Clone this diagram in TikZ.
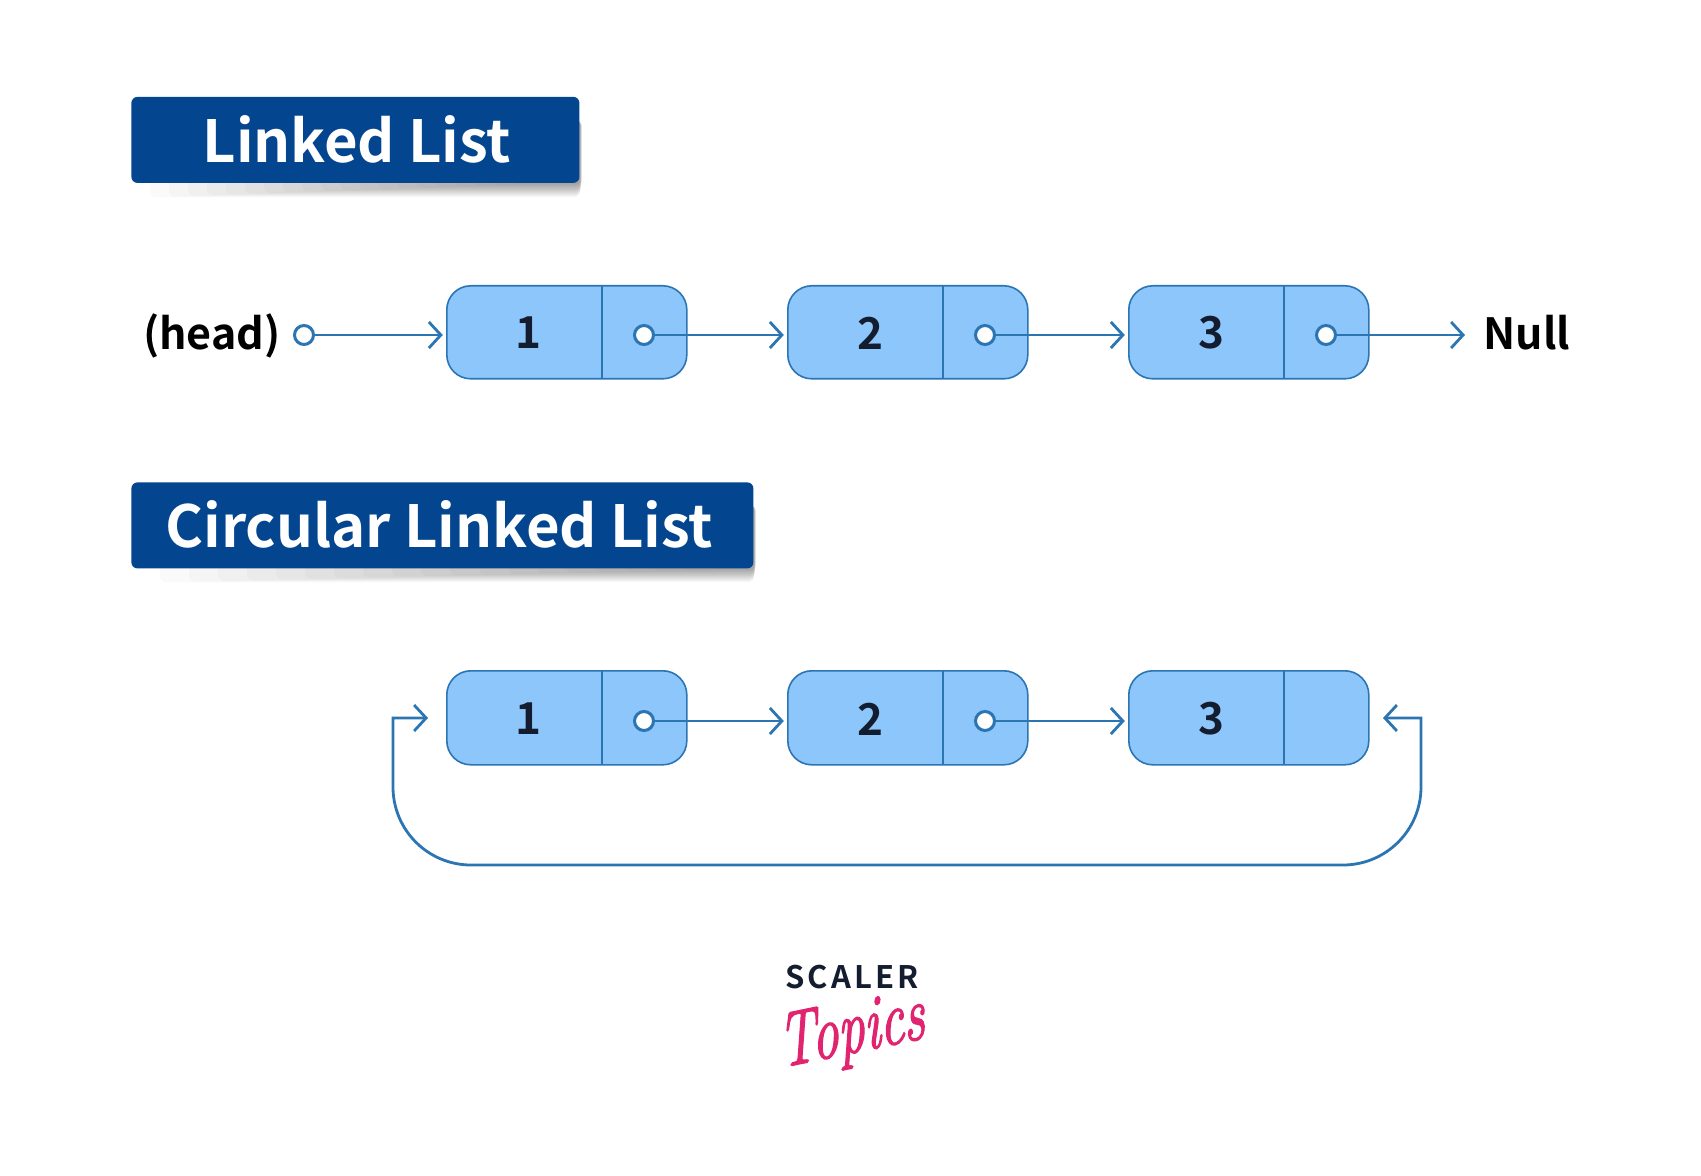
\documentclass[tikz,border=0pt]{standalone}
\usepackage{fontspec}
\usetikzlibrary{positioning,arrows.meta,calc}
\newfontfamily\labelfont{Noto Sans CJK SC Bold}
\newfontfamily\logofont{Noto Sans CJK SC Bold}
\newfontfamily\topicsfont{Latin Modern Roman}[ItalicFeatures={FakeBold=2.2}]
\definecolor{bannerblue}{HTML}{03458F}
\definecolor{cellblue}{HTML}{8CC6FB}
\definecolor{lineblue}{HTML}{2C75B3}
\definecolor{logonavy}{HTML}{141C30}
\definecolor{logopink}{HTML}{E0246F}
\tikzset{
  banner/.style={fill=bannerblue, rounded corners=3pt, anchor=north west, inner sep=0pt,
                 text=white, font=\labelfont\fontsize{29}{29}\selectfont, minimum height=43pt},
  cellbox/.style={draw=lineblue, fill=cellblue, line width=.8pt, rounded corners=12pt, anchor=north west,
                  inner sep=0pt, minimum width=120pt, minimum height=46.5pt},
  celltext/.style={inner sep=0pt, text=logonavy, font=\labelfont\fontsize{22}{22}\selectfont},
  sidetext/.style={inner sep=0pt, text=black, font=\labelfont\fontsize{21.5}{21.5}\selectfont},
  dotnode/.style={circle, draw=lineblue, fill=white, line width=1.5pt, inner sep=0pt, minimum size=9.5pt},
  link/.style={draw=lineblue, line width=1.4pt, -{Straight Barb[length=6pt,width=13pt,line width=1.4pt]}},
}
\begin{document}
\begin{tikzpicture}[x=.5pt,y=-.5pt]
    \useasboundingbox[fill=white] (0,0) rectangle (1701,1176);
    % titles
    \foreach \i in {1,...,20} {
      \fill[black, opacity=.018, rounded corners=3pt] (131+19*\i,120) rectangle (580+.1*\i,198-.7*\i);
      \fill[black, opacity=.018, rounded corners=3pt] (131+29*\i,505) rectangle (754+.1*\i,583-.7*\i);
    }
    \node[banner, minimum width=224pt] (title1) at (131,96.5) {\raisebox{1pt}{\hspace*{1.5pt}Linked List}};
    \node[banner, minimum width=311pt] (title2) at (131,482) {\raisebox{1pt}{Circular Linked List\hspace*{3pt}}};
    % first list
    \node[sidetext, anchor=base east] (head) at (281,350) {(head)};
    \node[dotnode] (hd) at (304,335) {};
    \foreach \n/\x/\t in {1/446/528,2/787/870,3/1128/1211} {
      \node[cellbox] (a\n) at (\x,285) {};
      \node[celltext] (av\n) at (\t,333) {\n};
      \draw[lineblue, line width=.8pt] (a\n.north west) ++(156,0) -- ++(0,93);
      \node[dotnode] (ad\n) at (\x+198,335) {};
    }
    \node[sidetext, anchor=base west] (null) at (1483,350) {Null};
    \coordinate (nullin) at (1465,335);
    \draw[link, shorten >=1.6pt] (hd.east) -- (hd.east -| a1.west);
    \draw[link, shorten >=1.6pt] (ad1.east) -- (ad1.east -| a2.west);
    \draw[link, shorten >=1.6pt] (ad2.east) -- (ad2.east -| a3.west);
    \draw[link] (ad3.east) -- (nullin);
    % second list
    \foreach \n/\x/\t in {1/446/528,2/787/870,3/1128/1211} {
      \node[cellbox, minimum height=47pt] (b\n) at (\x,670) {};
      \node[celltext] (bv\n) at (\t,719) {\n};
      \draw[lineblue, line width=.8pt] (b\n.north west) ++(156,0) -- ++(0,94);
    }
    \foreach \n/\x in {1/446,2/787} \node[dotnode] (bd\n) at (\x+198,721) {};
    \draw[link, shorten >=1.6pt] (bd1.east) -- (bd1.east -| b2.west);
    \draw[link, shorten >=1.6pt] (bd2.east) -- (bd2.east -| b3.west);
    % way back from the last cell to the first
    \coordinate (backout) at (1383,718);
    \coordinate (backin) at (428,718);
    \coordinate (backr) at (1421,718);
    \coordinate (backl) at (393,718);
    \draw[link, {Straight Barb[length=6pt,width=13pt,line width=1.4pt]}-{Straight Barb[length=6pt,width=13pt,line width=1.4pt]}]
      (backout) -- (backr) -- (1421,787) arc[start angle=0,end angle=90,radius=78]
      -- (471,865) arc[start angle=90,end angle=180,radius=78] -- (backl) -- (backin);
    % logo
    \node[inner sep=0pt, text=logonavy, font=\logofont\fontsize{15.5}{15.5}\selectfont] (scaler) at (852,977) {S\kern1.6pt C\kern1.6pt A\kern1.6pt L\kern1.6pt E\kern1.6pt R};
    \node[inner sep=0pt, text=logopink, transform shape, xscale=.85, yscale=1.25, rotate=8, font=\topicsfont\fontsize{31}{31}\selectfont\itshape] (topics) at (852,1034) {Topics};
  \end{tikzpicture}
\end{document}
